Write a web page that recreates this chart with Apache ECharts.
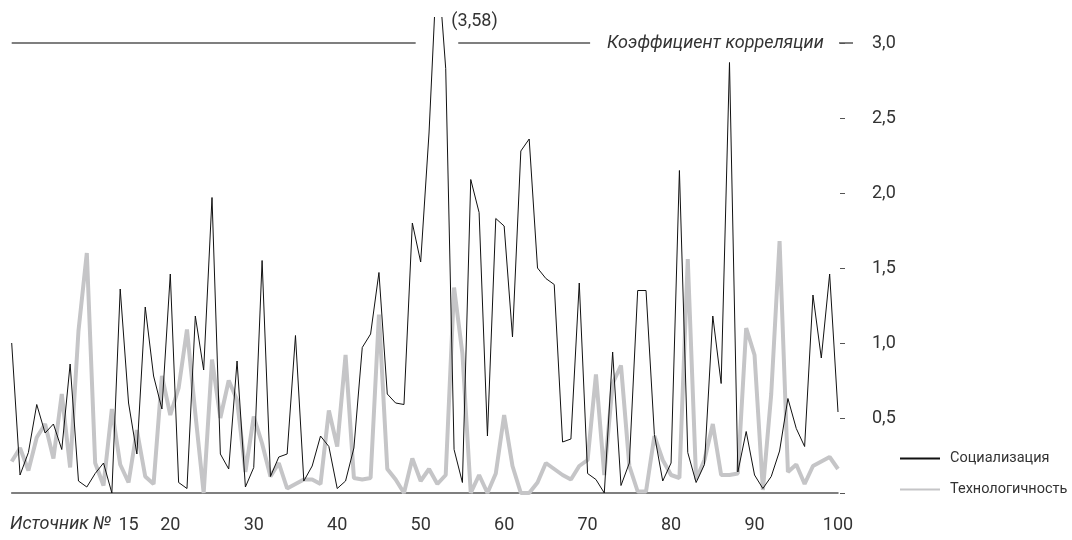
<!DOCTYPE html>
<html><head><meta charset="utf-8">
<script src="https://cdn.jsdelivr.net/npm/echarts@6/dist/echarts.min.js"></script>
<style>html,body{margin:0;padding:0;background:#fff}#c{width:1072px;height:540px}</style>
</head><body><div id="c"></div>
<script>
const sourceNo = [1,2,3,4,5,6,7,8,9,10,11,12,13,14,15,16,17,18,19,20,
  21,22,23,24,25,26,27,28,29,30,31,32,33,34,35,36,37,38,39,40,
  41,42,43,44,45,46,47,48,49,50,51,52,53,54,55,56,57,58,59,60,
  61,62,63,64,65,66,67,68,69,70,71,72,73,74,75,76,77,78,79,80,
  81,82,83,84,85,86,87,88,89,90,91,92,93,94,95,96,97,98,99,100];
const socialization = [1.00,0.12,0.27,0.59,0.40,0.46,0.29,0.86,0.08,0.04,
  0.13,0.20,0.00,1.36,0.60,0.26,1.24,0.78,0.56,1.46,
  0.07,0.03,1.18,0.82,1.97,0.26,0.16,0.88,0.04,0.17,
  1.55,0.11,0.24,0.26,1.05,0.08,0.18,0.38,0.31,0.03,
  0.08,0.30,0.97,1.06,1.47,0.66,0.60,0.59,1.80,1.54,
  2.40,3.58,2.83,0.29,0.07,2.09,1.87,0.38,1.83,1.78,
  1.04,2.28,2.36,1.50,1.43,1.39,0.34,0.36,1.40,0.13,
  0.09,0.00,0.94,0.05,0.20,1.35,1.35,0.39,0.08,0.20,
  2.15,0.27,0.07,0.19,1.18,0.73,2.87,0.14,0.41,0.12,
  0.03,0.11,0.28,0.63,0.43,0.31,1.32,0.90,1.46,0.54];
const technology = [0.21,0.30,0.15,0.37,0.46,0.23,0.66,0.17,1.08,1.60,
  0.20,0.05,0.56,0.19,0.07,0.42,0.11,0.06,0.78,0.52,
  0.70,1.09,0.53,0.00,0.89,0.50,0.75,0.62,0.14,0.51,
  0.33,0.11,0.20,0.03,0.06,0.09,0.09,0.06,0.55,0.31,
  0.92,0.10,0.09,0.10,1.19,0.16,0.09,0.00,0.23,0.08,
  0.16,0.06,0.12,1.37,0.93,0.00,0.12,0.00,0.13,0.52,
  0.18,0.00,0.00,0.07,0.20,0.16,0.12,0.09,0.18,0.22,
  0.79,0.12,0.73,0.85,0.18,0.01,0.01,0.38,0.22,0.12,
  0.10,1.56,0.09,0.22,0.46,0.12,0.12,0.13,1.10,0.92,
  0.02,0.66,1.68,0.14,0.19,0.06,0.18,0.21,0.24,0.16];
const xTickLabels = [15,20,30,40,50,60,70,80,90,100];
const yTickLabels = [0.5,1.0,1.5,2.0,2.5,3.0];
const seriesNames = ['Социализация','Технологичность'];
const peakSource = 52;
const peakLabel = '(3,58)';
const refValue = 3.0;
const refTitle = 'Коэффициент корреляции';
const xTitle = 'Источник №';

const FONT = 'Roboto, "Liberation Sans", sans-serif';
const TXT = '#333';
const fmt = v => Number(v).toFixed(1).replace('.', ',');
const chart = echarts.init(document.getElementById('c'), null, {renderer: 'canvas'});
const Y_MAX = 3.17;
const refLabel = {show: true, position: 'end', distance: 17, formatter: refTitle, fontStyle: 'italic', fontSize: 18, color: TXT, fontFamily: FONT};

chart.setOption({
  animation: false,
  grid: {left: 11.7, right: 234, top: 17.5, bottom: 47},
  xAxis: {
    type: 'value', min: 1, max: 100,
    axisLine: {show: true, lineStyle: {color: '#555', width: 1.5}},
    axisTick: {show: false}, splitLine: {show: false},
    axisLabel: {customValues: xTickLabels, margin: 23, fontSize: 18, color: TXT, fontFamily: FONT}
  },
  yAxis: [{
    type: 'value', position: 'right', min: 0, max: Y_MAX, offset: 2,
    axisLine: {show: false}, splitLine: {show: false},
    axisTick: {show: true, customValues: [0].concat(yTickLabels), length: 5, lineStyle: {color: '#555', width: 1}},
    axisLabel: {customValues: yTickLabels, formatter: fmt, margin: 32, fontSize: 18, color: TXT, fontFamily: FONT}
  }, {
    type: 'value', position: 'right', min: 0, max: Y_MAX, offset: 1,
    axisLine: {show: false}, splitLine: {show: false},
    axisTick: {show: true, customValues: [refValue], length: 14, lineStyle: {color: '#555', width: 1.5}},
    axisLabel: {show: false}
  }],
  legend: {
    data: seriesNames, orient: 'vertical', left: 899, top: 451, padding: 0,
    itemWidth: 40, itemHeight: 14, itemGap: 16,
    itemStyle: {opacity: 0},
    textStyle: {fontSize: 14.5, color: TXT, fontFamily: FONT, padding: [0, 0, 0, 5], width: 150, overflow: 'none'}
  },
  graphic: [{
    type: 'text', left: 10, top: 515,
    style: {text: xTitle, fontStyle: 'italic', fontSize: 18, fontFamily: FONT, fill: TXT}
  }],
  series: [{
    name: seriesNames[1], type: 'line', symbol: 'none', z: 2,
    data: sourceNo.map((x, i) => [x, technology[i]]),
    lineStyle: {color: '#c5c5c7', width: 4}, itemStyle: {color: '#c5c5c7'}
  }, {
    name: seriesNames[0], type: 'line', symbol: 'none', z: 3, clip: true,
    data: sourceNo.map((x, i) => [x, socialization[i]]),
    lineStyle: {color: '#111', width: 1}, itemStyle: {color: '#111'},
    markLine: {
      silent: true, symbol: 'none', animation: false,
      lineStyle: {color: '#555', width: 1.5, type: 'solid'},
      label: {show: false},
      data: [
        [{coord: [1, refValue]}, {coord: [49.4, refValue]}],
        [{coord: [54.5, refValue], label: refLabel}, {coord: [70.3, refValue], label: refLabel}]
      ]
    },
    markPoint: {
      symbol: 'circle', symbolSize: 0, silent: true,
      data: [{coord: [peakSource, Y_MAX], label: {show: true, position: 'right', distance: 14, offset: [0, 4], formatter: peakLabel, fontSize: 18, color: TXT, fontFamily: FONT}}]
    }
  }]
});
</script></body></html>
